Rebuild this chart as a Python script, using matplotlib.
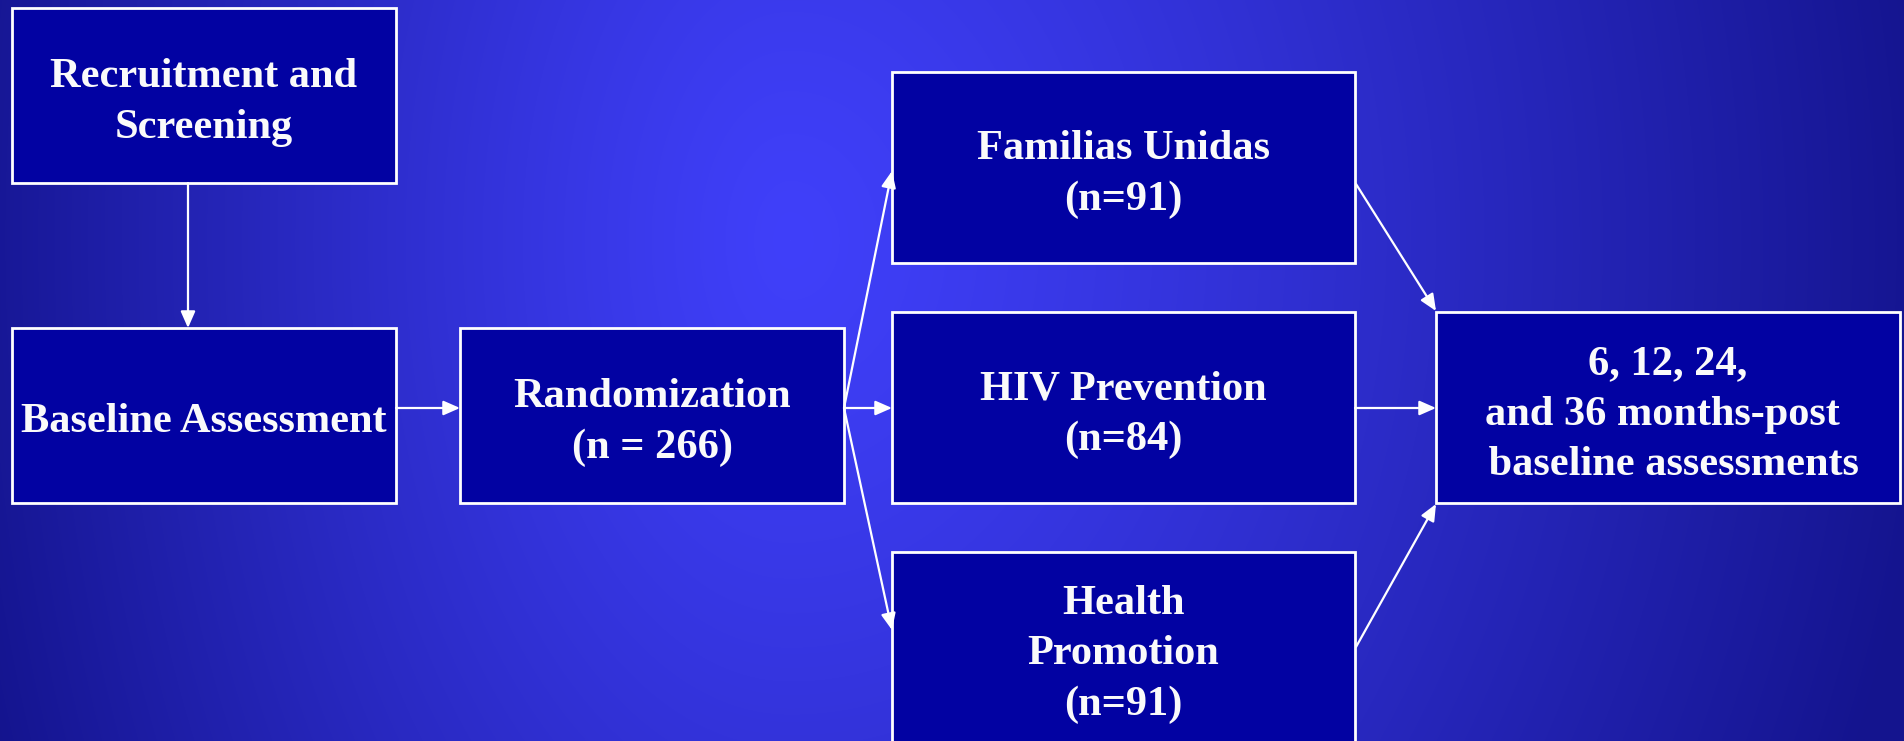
import numpy as np
import matplotlib
matplotlib.use("Agg")
import matplotlib.pyplot as plt
from matplotlib.patches import Rectangle

# ---- content ----
labels = [
    "Recruitment and\nScreening",
    "Baseline Assessment",
    "Randomization\n(n = 266)",
    "Familias Unidas\n(n=91)",
    "HIV Prevention\n(n=84)",
    "Health\nPromotion\n(n=91)",
    "6, 12, 24,\nand 36 months-post \n baseline assessments",
]
# box layout in pixel coordinates: x0, y0 (top), width, height
box_x = [12, 12, 460, 892, 892, 892, 1436]
box_y = [8, 328, 328, 72, 312, 552, 312]
box_w = [384, 384, 384, 463, 463, 463, 464]
box_h = [175, 175, 175, 191, 191, 191, 191]

# arrows: (start x, start y) -> (end x, end y)
arrows = [
    ((188, 183), (188, 328)),
    ((396, 408), (460, 408)),
    ((844, 408), (892, 171)),
    ((844, 408), (892, 408)),
    ((844, 408), (892, 630)),
    ((1356, 184), (1436, 311)),
    ((1355, 408), (1436, 408)),
    ((1356, 647), (1436, 504)),
]

W, H = 1904, 741
fig = plt.figure(figsize=(W / 100, H / 100), dpi=100)
ax = fig.add_axes([0, 0, 1, 1])
ax.set_xlim(0, W)
ax.set_ylim(H, 0)
ax.axis("off")

# background radial gradient
yy, xx = np.mgrid[0:H, 0:W]
cx, cy = 790.0, 240.0
rx = np.where(xx < cx, 850.0, 1150.0)
ry = 1400.0
d = np.sqrt(((xx - cx) / rx) ** 2 + ((yy - cy) / ry) ** 2)
t = np.clip(d, 0, 1) ** 1.2
c0 = np.array([0x40, 0x40, 0xFA]) / 255.0
c1 = np.array([0x14, 0x14, 0x8E]) / 255.0
img = c0[None, None, :] + (c1 - c0)[None, None, :] * t[..., None]
ax.imshow(img, extent=(0, W, H, 0), aspect="auto", zorder=0, interpolation="bilinear")

for lab, x, y, w, h in zip(labels, box_x, box_y, box_w, box_h):
    ax.add_patch(Rectangle((x, y), w, h, facecolor="#0202A2", edgecolor="white",
                           lw=2, zorder=2))
    ax.text(x + w / 2, y + h / 2 + 7, lab, ha="center", va="center", color="#FAFAFA",
            family="Liberation Serif", weight="bold", fontsize=30.5,
            linespacing=1.42, zorder=3, multialignment="center")

for (x0, y0), (x1, y1) in arrows:
    ax.annotate("", xy=(x1, y1), xytext=(x0, y0),
                arrowprops=dict(arrowstyle="-|>,head_length=0.5,head_width=0.22",
                                color="white", lw=1.6,
                                mutation_scale=20, shrinkA=0, shrinkB=0),
                zorder=4)

fig.savefig("out.png", dpi=100)
